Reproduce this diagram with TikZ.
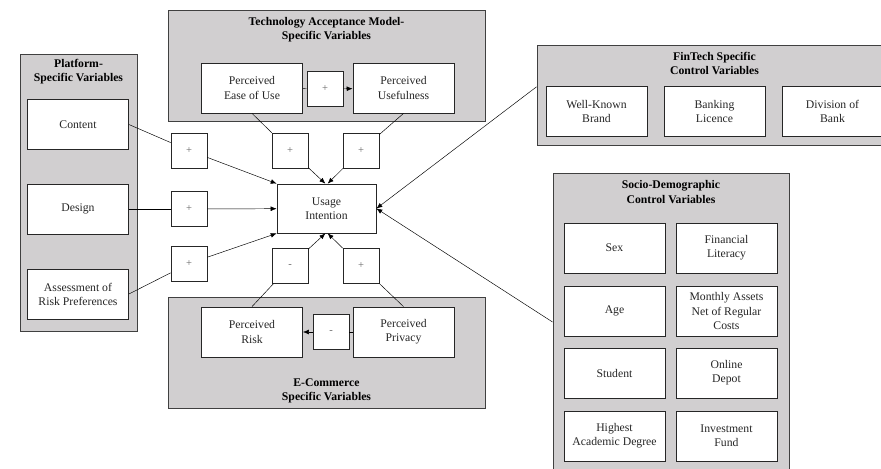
\documentclass[tikz,border=0pt]{standalone}
\usepackage{fontspec}
\setmainfont{Liberation Serif}
\usetikzlibrary{arrows.meta}
\definecolor{panelgray}{RGB}{209,207,208}
\tikzset{
  panel/.style={draw=black!75, fill=panelgray, line width=0.8pt},
  title/.style={font=\bfseries, align=center},
  var/.style={draw=black!85, fill=white, line width=0.7pt, align=center,
    minimum width=3.03cm, minimum height=1.5cm, inner sep=2pt, text=black!85},
  sign/.style={draw=black!85, fill=white, line width=0.6pt,
    minimum width=1.08cm, minimum height=1.05cm, font=\small, text=black!60}
}
\begin{document}
\begin{tikzpicture}[x=0.03cm,y=-0.03cm,>={Latex[length=5pt,width=4pt]}]
    \clip (0,0) rectangle (881,468);

    % Paneles
    \node[panel, minimum width=3.51cm, minimum height=8.31cm] (plat) at (78.5,192.5) {};
    \node[panel, minimum width=9.51cm, minimum height=3.33cm] (tam) at (326.5,65.5) {};
    \node[panel, minimum width=9.51cm, minimum height=3.33cm] (ecom) at (326.5,352.5) {};
    \node[panel, minimum width=10.65cm, minimum height=3cm] (fin) at (714.5,95) {};
    \node[panel, minimum width=7.08cm, minimum height=8.94cm] (soc) at (671,322) {};

    \node[title] (platT) at (78.5,72) {Platform-\\Specific Variables};
    \node[title] (tamT) at (326.5,29.5) {Technology Acceptance Model-\\Specific Variables};
    \node[title] (ecomT) at (326.5,391) {E-Commerce\\Specific Variables};
    \node[title] (finT) at (714.5,63) {FinTech Specific\\Control Variables};
    \node[title] (socT) at (671,192) {Socio-Demographic\\Control Variables};

    % Variable dependiente
    \node[var, minimum width=2.97cm, minimum height=1.47cm] (usage) at (326.5,208.5) {Usage\\Intention};

    % Plataforma
    \node[var] (content) at (78,124.5) {Content};
    \node[var] (design) at (78,209) {Design};
    \node[var] (risk) at (78,294) {Assessment of\\Risk Preferences};
    \node[sign] (s1) at (189,150.5) {+};
    \node[sign] (s2) at (189,209) {+};
    \node[sign] (s3) at (189,263.5) {+};
    \draw (content.east) -- (s1);
    \draw[->] (s1) -- (usage.north west);
    \draw (design) -- (s2);
    \draw[->] (s2) -- (usage);
    \draw (risk.east) -- (s3);
    \draw[->] (s3) -- (usage.south west);

    % TAM
    \node[var] (peou) at (252,88) {Perceived\\Ease of Use};
    \node[var] (pu) at (403.5,88) {Perceived\\Usefulness};
    \node[sign] (s4) at (325,89) {+};
    \node[sign] (s5) at (290,150.5) {+};
    \node[sign] (s6) at (361,150.5) {+};
    \draw (peou) -- (s4);
    \draw[->] (s4) -- (pu);
    \draw (peou.south) -- (s5);
    \draw[->] (s5) -- ([xshift=-1pt]usage.north);
    \draw (pu.south) -- (s6);
    \draw[->] (s6) -- ([xshift=1pt]usage.north);

    % E-Commerce
    \node[var] (pr) at (252,332) {Perceived\\Risk};
    \node[var] (pp) at (403.5,332) {Perceived\\Privacy};
    \node[sign] (s7) at (331,332) {-};
    \node[sign] (s8) at (290,266) {-};
    \node[sign] (s9) at (361,266) {+};
    \draw (pp) -- (s7);
    \draw[->] (s7) -- (pr);
    \draw (pr.north) -- (s8);
    \draw[->] (s8) -- ([xshift=-1pt]usage.south);
    \draw (pp.north) -- (s9);
    \draw[->] (s9) -- ([xshift=1pt]usage.south);

    % FinTech
    \node[var] (brand) at (596.5,111.5) {Well-Known\\Brand};
    \node[var] (licence) at (714.5,111.5) {Banking\\Licence};
    \node[var] (division) at (832.5,111.5) {Division of\\Bank};
    \coordinate (finin) at ([yshift=7pt]fin.west);
    \draw[->] (finin) -- (usage.east);

    % Sociodemograficas
    \node[var] (sex) at (614.5,248) {Sex};
    \node[var] (literacy) at (726.5,248) {Financial\\Literacy};
    \node[var] (age) at (614.5,311) {Age};
    \node[var] (assets) at (726.5,311) {Monthly Assets\\Net of Regular\\Costs};
    \node[var] (student) at (614.5,373) {Student};
    \node[var] (depot) at (726.5,373) {Online\\Depot};
    \node[var] (degree) at (614.5,436) {Highest\\Academic Degree};
    \node[var] (fund) at (726.5,436) {Investment\\Fund};
    \draw[->] (soc.west) -- (usage.east);

\end{tikzpicture}
\end{document}
